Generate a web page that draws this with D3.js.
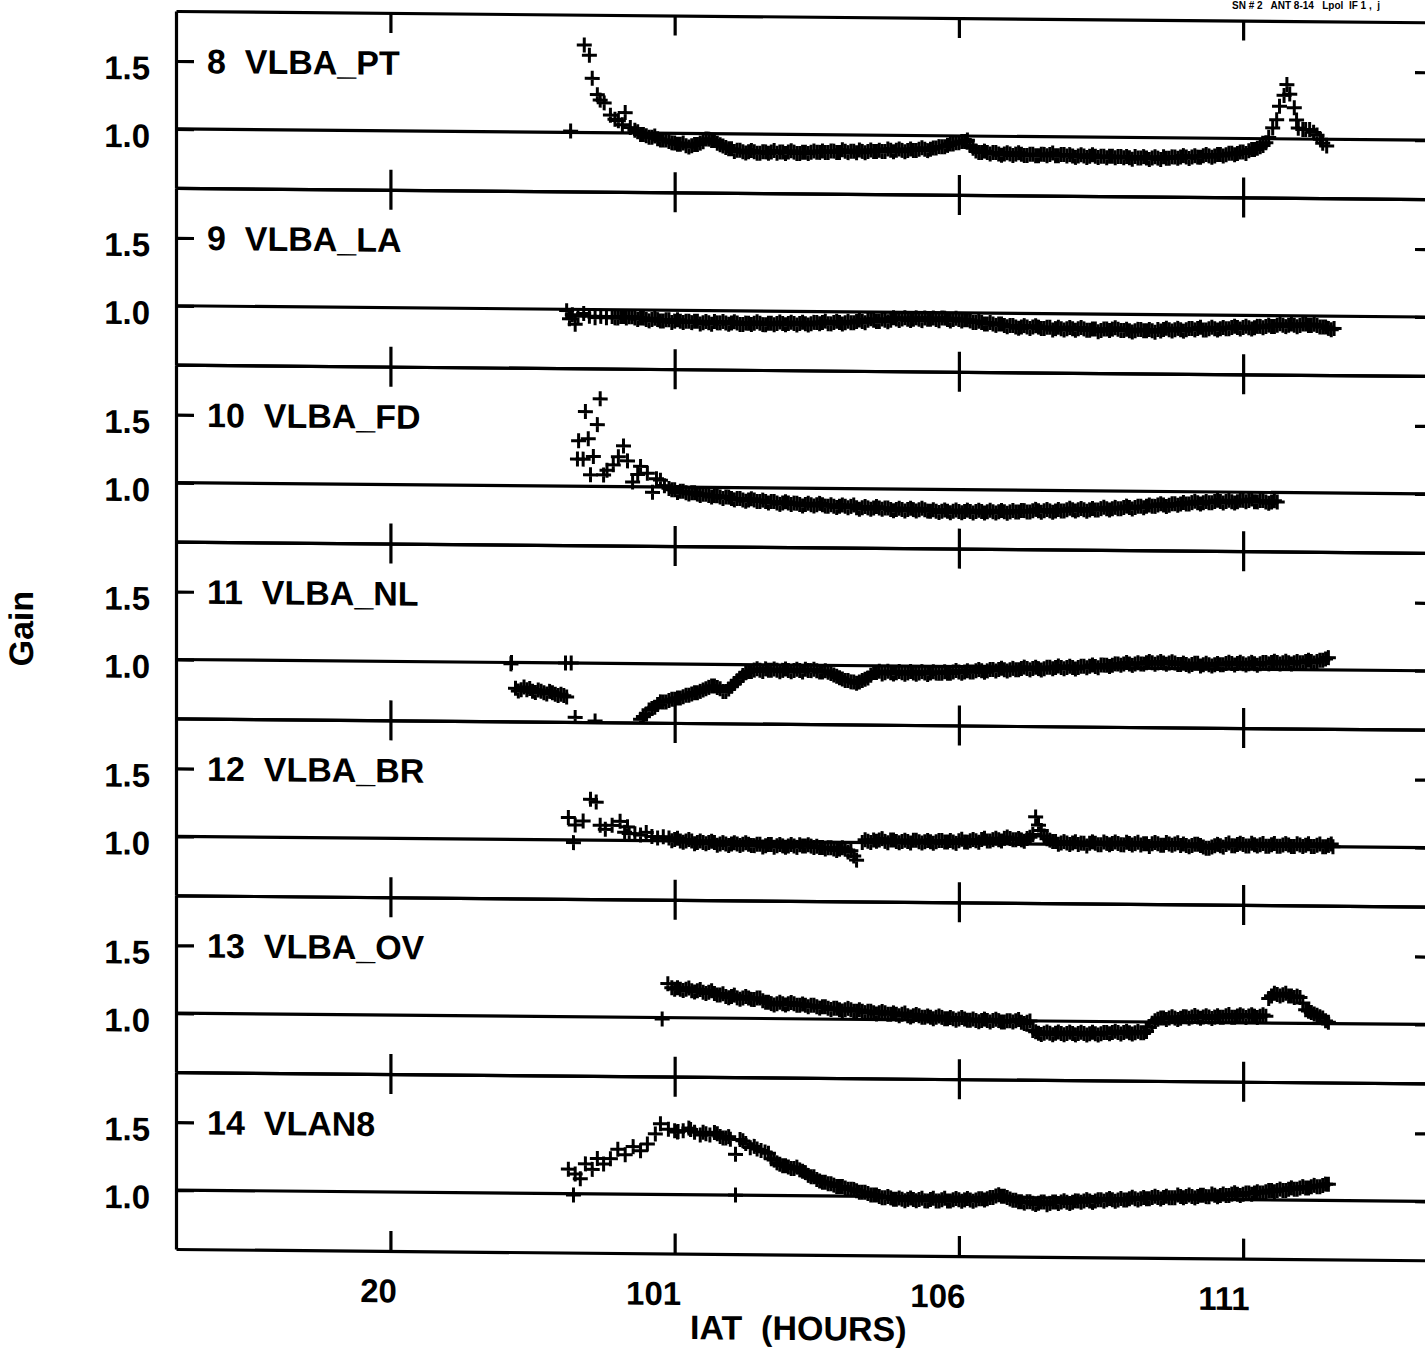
<!DOCTYPE html>
<html><head><meta charset="utf-8">
<script src="https://cdn.jsdelivr.net/npm/d3@7"></script>
<style>body{margin:0;background:#fff}svg text{white-space:pre}</style>
</head><body>
<svg id="c" width="1425" height="1348"></svg>
<script>
const antennas = ["8  VLBA_PT","9  VLBA_LA","10  VLBA_FD","11  VLBA_NL","12  VLBA_BR","13  VLBA_OV","14  VLAN8"];
const xTicks = [20,25,30,35];
const xTickLabels = ["20","101","106","111"];
const yTicks = [1.0,1.5];
const yTickLabels = ["1.0","1.5"];
const xTitle = "IAT  (HOURS)";
const yTitle = "Gain";
const topTitle = "SN # 2   ANT 8-14   Lpol  IF 1 ,  j";

const gainPT = [[23.17,1.01],[23.41,1.645],[23.5,1.57],[23.55,1.40],[23.64,1.28],[23.69,1.24],[23.76,1.22],[23.87,1.13],[23.95,1.10],[24.01,1.09],[24.08,1.06],[24.13,1.15],[24.22,1.04],
[24.3,1.02],[24.4,0.99],[24.5,0.98],[24.6,0.97],[24.7,0.96],[24.8,0.95],[24.9,0.94],
[25.0,0.93],[25.1,0.92],[25.2,0.91],[25.3,0.91],[25.4,0.92],[25.5,0.94],[25.6,0.96],[25.7,0.95],[25.8,0.92],[25.9,0.90],
[26.0,0.89],[26.1,0.88],[26.2,0.87],[26.3,0.87],[26.4,0.87],[26.5,0.86],[26.6,0.87],[26.7,0.87],[26.8,0.86],[26.9,0.87],
[27.0,0.87],[27.1,0.87],[27.2,0.86],[27.3,0.87],[27.4,0.87],[27.5,0.87],[27.6,0.88],[27.7,0.87],[27.8,0.88],[27.9,0.87],
[28.0,0.88],[28.1,0.88],[28.2,0.87],[28.3,0.88],[28.4,0.88],[28.5,0.88],[28.6,0.89],[28.7,0.88],[28.8,0.89],[28.9,0.89],
[29.0,0.89],[29.1,0.89],[29.2,0.89],[29.3,0.90],[29.4,0.90],[29.5,0.90],[29.6,0.91],[29.7,0.92],[29.8,0.93],[29.9,0.94],
[30.0,0.95],[30.1,0.96],[30.2,0.93],[30.3,0.89],[30.4,0.88],[30.5,0.88],[30.6,0.88],[30.7,0.87],[30.8,0.87],[30.9,0.87],
[31.0,0.87],[31.1,0.87],[31.2,0.86],[31.3,0.87],[31.4,0.86],[31.5,0.87],[31.6,0.87],[31.7,0.86],[31.8,0.87],[31.9,0.86],
[32.0,0.86],[32.1,0.86],[32.2,0.86],[32.3,0.86],[32.4,0.86],[32.5,0.86],[32.6,0.85],[32.7,0.86],[32.8,0.86],[32.9,0.85],
[33.0,0.85],[33.1,0.86],[33.2,0.85],[33.3,0.85],[33.4,0.85],[33.5,0.85],[33.6,0.86],[33.7,0.85],[33.8,0.86],[33.9,0.86],
[34.0,0.86],[34.1,0.86],[34.2,0.86],[34.3,0.87],[34.4,0.87],[34.5,0.87],[34.6,0.88],[34.7,0.88],[34.8,0.89],[34.9,0.89],
[35.0,0.90],[35.1,0.91],[35.2,0.92],[35.3,0.94],[35.4,0.97],[35.45,1.01],[35.52,1.08],[35.59,1.14],[35.64,1.24],[35.72,1.32],[35.77,1.40],[35.82,1.33],[35.9,1.23],[35.94,1.14],[35.97,1.08],
[36.05,1.07],[36.1,1.07],[36.17,1.07],[36.24,1.05],[36.3,1.03],[36.36,1.0],[36.4,0.97],[36.47,0.95]];
const gainPTb = [[24.35,1.01],[24.45,0.99],[24.55,0.97],[24.65,0.98],[24.75,0.95],[24.85,0.95],[24.95,0.93],
[25.05,0.92],[25.15,0.93],[25.25,0.90],[25.35,0.92],[25.45,0.93],[25.55,0.96],[25.65,0.95],[25.75,0.93],[25.85,0.91],[25.95,0.89],
[26.05,0.87],[26.15,0.88],[26.25,0.86],[26.35,0.88],[26.45,0.86],[26.55,0.87],[26.65,0.86],[26.75,0.88],[26.85,0.87],[26.95,0.86],
[27.05,0.88],[27.15,0.86],[27.25,0.87],[27.35,0.86],[27.45,0.88],[27.55,0.87],[27.65,0.87],[27.75,0.88],[27.85,0.87],[27.95,0.89],
[28.05,0.87],[28.15,0.88],[28.25,0.89],[28.35,0.87],[28.45,0.89],[28.55,0.88],[28.65,0.88],[28.75,0.90],[28.85,0.88],[28.95,0.90],
[29.05,0.88],[29.15,0.90],[29.25,0.89],[29.35,0.91],[29.45,0.89],[29.55,0.91],[29.65,0.92],[29.75,0.92],[29.85,0.94],[29.95,0.95],
[30.05,0.96],[30.15,0.97],[30.25,0.91],[30.35,0.88],[30.45,0.89],[30.55,0.87],[30.65,0.88],[30.75,0.86],[30.85,0.88],[30.95,0.86],
[31.05,0.88],[31.15,0.86],[31.25,0.87],[31.35,0.86],[31.45,0.87],[31.55,0.86],[31.65,0.88],[31.75,0.86],[31.85,0.87],[31.95,0.87],
[32.05,0.85],[32.15,0.87],[32.25,0.85],[32.35,0.87],[32.45,0.85],[32.55,0.86],[32.65,0.86],[32.75,0.85],[32.85,0.86],[32.95,0.86],
[33.05,0.84],[33.15,0.85],[33.25,0.86],[33.35,0.84],[33.45,0.86],[33.55,0.84],[33.65,0.85],[33.75,0.86],[33.85,0.85],[33.95,0.87],
[34.05,0.85],[34.15,0.87],[34.25,0.86],[34.35,0.88],[34.45,0.86],[34.55,0.88],[34.65,0.87],[34.75,0.89],[34.85,0.88],[34.95,0.90],
[35.05,0.89],[35.15,0.92],[35.25,0.93],[35.35,0.95]];

const gainLA = [[23.1,0.99],[23.15,0.93],[23.2,0.96],[23.25,0.89],[23.3,0.95],[23.4,0.97],[23.5,0.95],[23.6,0.94],[23.7,0.95],[23.8,0.94],[23.9,0.95],
[24.0,0.94],[24.1,0.95],[24.2,0.95],[24.3,0.94],[24.4,0.94],[24.5,0.93],[24.6,0.93],[24.7,0.93],[24.8,0.92],[24.9,0.93],
[25.0,0.92],[25.1,0.92],[25.2,0.92],[25.3,0.91],[25.4,0.92],[25.5,0.91],[25.6,0.91],[25.7,0.92],[25.8,0.91],[25.9,0.91],
[26.0,0.91],[26.1,0.91],[26.2,0.90],[26.3,0.91],[26.4,0.91],[26.5,0.91],[26.6,0.90],[26.7,0.91],[26.8,0.91],[26.9,0.91],
[27.0,0.91],[27.1,0.91],[27.2,0.91],[27.3,0.91],[27.4,0.91],[27.5,0.92],[27.6,0.92],[27.7,0.91],[27.8,0.92],[27.9,0.92],
[28.0,0.92],[28.1,0.92],[28.2,0.93],[28.3,0.93],[28.4,0.94],[28.5,0.94],[28.6,0.93],[28.7,0.94],[28.8,0.94],[28.9,0.95],
[29.0,0.95],[29.1,0.95],[29.2,0.95],[29.3,0.95],[29.4,0.96],[29.5,0.95],[29.6,0.95],[29.7,0.96],[29.8,0.95],[29.9,0.95],
[30.0,0.95],[30.1,0.95],[30.2,0.94],[30.3,0.93],[30.4,0.93],[30.5,0.92],[30.6,0.92],[30.7,0.92],[30.8,0.91],[30.9,0.91],
[31.0,0.90],[31.1,0.90],[31.2,0.90],[31.3,0.90],[31.4,0.90],[31.5,0.89],[31.6,0.90],[31.7,0.89],[31.8,0.89],[31.9,0.89],
[32.0,0.89],[32.1,0.89],[32.2,0.89],[32.3,0.88],[32.4,0.89],[32.5,0.88],[32.6,0.89],[32.7,0.89],[32.8,0.89],[32.9,0.88],
[33.0,0.88],[33.1,0.88],[33.2,0.89],[33.3,0.88],[33.4,0.88],[33.5,0.89],[33.6,0.89],[33.7,0.89],[33.8,0.89],[33.9,0.89],
[34.0,0.89],[34.1,0.90],[34.2,0.90],[34.3,0.89],[34.4,0.90],[34.5,0.90],[34.6,0.90],[34.7,0.90],[34.8,0.91],[34.9,0.91],
[35.0,0.91],[35.1,0.91],[35.2,0.91],[35.3,0.92],[35.4,0.92],[35.5,0.92],[35.6,0.93],[35.7,0.93],[35.8,0.93],[35.9,0.93],
[36.0,0.93],[36.1,0.94],[36.2,0.93],[36.3,0.93],[36.4,0.92],[36.5,0.91],[36.6,0.91]];
const gainLAb = [[23.95,0.94],[24.05,0.95],[24.15,0.94],[24.25,0.95],[24.35,0.93],[24.45,0.94],[24.55,0.92],[24.65,0.94],[24.75,0.92],[24.85,0.93],[24.95,0.91],
[25.05,0.93],[25.15,0.91],[25.25,0.92],[25.35,0.92],[25.45,0.90],[25.55,0.92],[25.65,0.90],[25.75,0.91],[25.85,0.92],[25.95,0.90],
[26.05,0.92],[26.15,0.90],[26.25,0.91],[26.35,0.90],[26.45,0.92],[26.55,0.90],[26.65,0.91],[26.75,0.90],[26.85,0.92],[26.95,0.90],
[27.05,0.92],[27.15,0.90],[27.25,0.92],[27.35,0.90],[27.45,0.92],[27.55,0.91],[27.65,0.93],[27.75,0.91],[27.85,0.93],[27.95,0.91],
[28.05,0.93],[28.15,0.92],[28.25,0.94],[28.35,0.92],[28.45,0.95],[28.55,0.93],[28.65,0.95],[28.75,0.93],[28.85,0.96],[28.95,0.94],
[29.05,0.96],[29.15,0.94],[29.25,0.96],[29.35,0.94],[29.45,0.95],[29.55,0.96],[29.65,0.94],[29.75,0.96],[29.85,0.94],[29.95,0.96],
[30.05,0.94],[30.15,0.95],[30.25,0.93],[30.35,0.94],[30.45,0.92],[30.55,0.93],[30.65,0.91],[30.75,0.92],[30.85,0.90],[30.95,0.91],
[31.05,0.89],[31.15,0.91],[31.25,0.89],[31.35,0.91],[31.45,0.89],[31.55,0.90],[31.65,0.88],[31.75,0.90],[31.85,0.88],[31.95,0.90],
[32.05,0.88],[32.15,0.90],[32.25,0.88],[32.35,0.89],[32.45,0.87],[32.55,0.89],[32.65,0.88],[32.75,0.90],[32.85,0.88],[32.95,0.89],
[33.05,0.87],[33.15,0.89],[33.25,0.88],[33.35,0.89],[33.45,0.87],[33.55,0.88],[33.65,0.90],[33.75,0.88],[33.85,0.90],[33.95,0.88],
[34.05,0.90],[34.15,0.89],[34.25,0.91],[34.35,0.89],[34.45,0.91],[34.55,0.89],[34.65,0.91],[34.75,0.90],[34.85,0.92],[34.95,0.90],
[35.05,0.92],[35.15,0.90],[35.25,0.92],[35.35,0.91],[35.45,0.93],[35.55,0.92],[35.65,0.94],[35.75,0.92],[35.85,0.94],[35.95,0.92],
[36.05,0.94],[36.15,0.93],[36.25,0.94],[36.35,0.92],[36.45,0.92],[36.55,0.90]];

const gainFD = [[23.29,1.20],[23.31,1.335],[23.39,1.20],[23.43,1.55],[23.48,1.35],[23.52,1.085],[23.57,1.22],[23.64,1.455],[23.69,1.645],[23.75,1.085],[23.81,1.12],[23.92,1.16],[24.01,1.22],[24.1,1.30],[24.17,1.19],[24.26,1.035],[24.35,1.09],[24.4,1.15],[24.52,1.10],[24.61,0.96],[24.68,1.06],[24.75,1.05],[24.82,1.01],[24.9,0.99],
[25.0,0.98],[25.1,0.97],[25.2,0.96],[25.3,0.96],[25.4,0.95],[25.5,0.95],[25.6,0.94],[25.7,0.94],[25.8,0.93],[25.9,0.93],
[26.0,0.92],[26.1,0.92],[26.2,0.91],[26.3,0.91],[26.4,0.91],[26.5,0.90],[26.6,0.90],[26.7,0.90],[26.8,0.89],[26.9,0.89],
[27.0,0.89],[27.1,0.89],[27.2,0.88],[27.3,0.88],[27.4,0.88],[27.5,0.88],[27.6,0.88],[27.7,0.87],[27.8,0.87],[27.9,0.87],
[28.0,0.87],[28.1,0.87],[28.2,0.86],[28.3,0.86],[28.4,0.86],[28.5,0.86],[28.6,0.86],[28.7,0.86],[28.8,0.85],[28.9,0.85],
[29.0,0.85],[29.1,0.85],[29.2,0.85],[29.3,0.85],[29.4,0.85],[29.5,0.84],[29.6,0.84],[29.7,0.84],[29.8,0.84],[29.9,0.84],
[30.0,0.84],[30.1,0.84],[30.2,0.84],[30.3,0.84],[30.4,0.84],[30.5,0.84],[30.6,0.84],[30.7,0.84],[30.8,0.84],[30.9,0.84],
[31.0,0.84],[31.1,0.85],[31.2,0.84],[31.3,0.85],[31.4,0.85],[31.5,0.85],[31.6,0.85],[31.7,0.85],[31.8,0.85],[31.9,0.86],
[32.0,0.86],[32.1,0.86],[32.2,0.86],[32.3,0.86],[32.4,0.86],[32.5,0.87],[32.6,0.87],[32.7,0.87],[32.8,0.87],[32.9,0.88],
[33.0,0.88],[33.1,0.88],[33.2,0.89],[33.3,0.89],[33.4,0.89],[33.5,0.90],[33.6,0.90],[33.7,0.90],[33.8,0.91],[33.9,0.91],
[34.0,0.91],[34.1,0.92],[34.2,0.92],[34.3,0.92],[34.4,0.92],[34.5,0.93],[34.6,0.93],[34.7,0.93],[34.8,0.93],[34.9,0.93],
[35.0,0.94],[35.1,0.94],[35.2,0.93],[35.3,0.94],[35.4,0.93],[35.5,0.93],[35.6,0.93]];
const gainFDb = [[24.95,0.98],[25.05,0.96],[25.15,0.97],[25.25,0.95],[25.35,0.96],[25.45,0.94],[25.55,0.95],[25.65,0.93],[25.75,0.94],[25.85,0.92],[25.95,0.93],
[26.05,0.91],[26.15,0.92],[26.25,0.90],[26.35,0.92],[26.45,0.90],[26.55,0.91],[26.65,0.89],[26.75,0.90],[26.85,0.88],[26.95,0.90],
[27.05,0.88],[27.15,0.89],[27.25,0.87],[27.35,0.89],[27.45,0.87],[27.55,0.89],[27.65,0.87],[27.75,0.88],[27.85,0.86],[27.95,0.88],
[28.05,0.86],[28.15,0.88],[28.25,0.85],[28.35,0.87],[28.45,0.85],[28.55,0.87],[28.65,0.85],[28.75,0.86],[28.85,0.84],[28.95,0.86],
[29.05,0.84],[29.15,0.86],[29.25,0.84],[29.35,0.86],[29.45,0.84],[29.55,0.85],[29.65,0.83],[29.75,0.85],[29.85,0.83],[29.95,0.85],
[30.05,0.83],[30.15,0.85],[30.25,0.83],[30.35,0.85],[30.45,0.83],[30.55,0.85],[30.65,0.83],[30.75,0.85],[30.85,0.83],[30.95,0.85],
[31.05,0.84],[31.15,0.85],[31.25,0.84],[31.35,0.86],[31.45,0.84],[31.55,0.86],[31.65,0.84],[31.75,0.86],[31.85,0.85],[31.95,0.87],
[32.05,0.85],[32.15,0.87],[32.25,0.85],[32.35,0.87],[32.45,0.86],[32.55,0.88],[32.65,0.86],[32.75,0.88],[32.85,0.87],[32.95,0.89],
[33.05,0.87],[33.15,0.89],[33.25,0.88],[33.35,0.90],[33.45,0.89],[33.55,0.91],[33.65,0.89],[33.75,0.91],[33.85,0.90],[33.95,0.92],
[34.05,0.91],[34.15,0.93],[34.25,0.91],[34.35,0.93],[34.45,0.92],[34.55,0.94],[34.65,0.92],[34.75,0.94],[34.85,0.92],[34.95,0.94],
[35.05,0.93],[35.15,0.95],[35.25,0.93],[35.35,0.94],[35.45,0.92],[35.55,0.94]];

const gainNL = [[22.12,0.99],[22.13,1.0],[22.2,0.81],[22.3,0.80],[22.35,0.82],[22.4,0.80],[22.5,0.79],[22.6,0.80],[22.7,0.78],[22.8,0.79],[22.9,0.77],[23.0,0.77],[23.1,0.75],[23.08,1.0],[23.18,1.0],[23.25,0.60],[23.6,0.575],
[24.4,0.59],[24.5,0.63],[24.6,0.67],[24.7,0.70],[24.8,0.72],[24.9,0.73],[25.0,0.74],[25.1,0.75],[25.2,0.77],[25.3,0.78],[25.4,0.79],[25.5,0.81],[25.6,0.83],[25.7,0.84],[25.8,0.82],[25.9,0.80],
[26.0,0.84],[26.1,0.88],[26.2,0.92],[26.3,0.95],[26.4,0.96],[26.5,0.96],[26.6,0.97],[26.7,0.96],[26.8,0.96],[26.9,0.96],
[27.0,0.96],[27.1,0.96],[27.2,0.96],[27.3,0.97],[27.4,0.96],[27.5,0.96],[27.6,0.95],[27.7,0.95],[27.8,0.93],[27.9,0.91],
[28.0,0.89],[28.1,0.88],[28.2,0.87],[28.3,0.89],[28.4,0.91],[28.5,0.95],[28.6,0.96],[28.7,0.95],[28.8,0.95],[28.9,0.95],
[29.0,0.95],[29.1,0.95],[29.2,0.95],[29.3,0.95],[29.4,0.95],[29.5,0.95],[29.6,0.95],[29.7,0.95],[29.8,0.95],[29.9,0.96],
[30.0,0.96],[30.1,0.96],[30.2,0.96],[30.3,0.97],[30.4,0.97],[30.5,0.97],[30.6,0.98],[30.7,0.98],[30.8,0.98],[30.9,0.98],
[31.0,0.98],[31.1,0.99],[31.2,0.99],[31.3,0.99],[31.4,0.99],[31.5,0.99],[31.6,1.00],[31.7,1.00],[31.8,1.00],[31.9,1.00],
[32.0,1.00],[32.1,1.00],[32.2,1.01],[32.3,1.01],[32.4,1.01],[32.5,1.02],[32.6,1.02],[32.7,1.02],[32.8,1.03],[32.9,1.03],
[33.0,1.03],[33.1,1.03],[33.2,1.03],[33.3,1.04],[33.4,1.04],[33.5,1.04],[33.6,1.04],[33.7,1.04],[33.8,1.04],[33.9,1.03],
[34.0,1.03],[34.1,1.03],[34.2,1.04],[34.3,1.03],[34.4,1.03],[34.5,1.03],[34.6,1.03],[34.7,1.04],[34.8,1.04],[34.9,1.04],
[35.0,1.04],[35.1,1.04],[35.2,1.04],[35.3,1.04],[35.4,1.05],[35.5,1.05],[35.6,1.05],[35.7,1.05],[35.8,1.05],[35.9,1.05],
[36.0,1.05],[36.1,1.06],[36.2,1.06],[36.3,1.06],[36.4,1.07],[36.5,1.09]];
const gainNLb = [[22.25,0.79],[22.45,0.81],[22.55,0.78],[22.65,0.79],[22.75,0.77],[22.85,0.78],[22.95,0.76],[23.05,0.76],
[24.45,0.61],[24.55,0.66],[24.65,0.68],[24.75,0.72],[24.85,0.72],[24.95,0.74],[25.05,0.75],[25.15,0.76],[25.25,0.77],[25.35,0.79],[25.45,0.80],[25.55,0.82],[25.65,0.84],[25.75,0.83],[25.85,0.80],[25.95,0.82],
[26.05,0.86],[26.15,0.90],[26.25,0.94],[26.35,0.95],[26.45,0.97],[26.55,0.95],[26.65,0.96],[26.75,0.97],[26.85,0.95],[26.95,0.97],
[27.05,0.95],[27.15,0.97],[27.25,0.95],[27.35,0.96],[27.45,0.97],[27.55,0.95],[27.65,0.96],[27.75,0.94],[27.85,0.92],[27.95,0.90],
[28.05,0.89],[28.15,0.88],[28.25,0.88],[28.35,0.90],[28.45,0.93],[28.55,0.95],[28.65,0.94],[28.75,0.96],[28.85,0.94],[28.95,0.96],
[29.05,0.94],[29.15,0.96],[29.25,0.94],[29.35,0.96],[29.45,0.94],[29.55,0.96],[29.65,0.95],[29.75,0.96],[29.85,0.95],[29.95,0.97],
[30.05,0.95],[30.15,0.97],[30.25,0.96],[30.35,0.98],[30.45,0.96],[30.55,0.98],[30.65,0.97],[30.75,0.99],[30.85,0.97],[30.95,0.99],
[31.05,0.98],[31.15,1.00],[31.25,0.98],[31.35,1.00],[31.45,0.98],[31.55,1.00],[31.65,0.99],[31.75,1.01],[31.85,0.99],[31.95,1.01],
[32.05,0.99],[32.15,1.01],[32.25,1.00],[32.35,1.02],[32.45,1.00],[32.55,1.02],[32.65,1.01],[32.75,1.03],[32.85,1.02],[32.95,1.04],
[33.05,1.02],[33.15,1.04],[33.25,1.03],[33.35,1.05],[33.45,1.03],[33.55,1.05],[33.65,1.03],[33.75,1.05],[33.85,1.03],[33.95,1.04],
[34.05,1.02],[34.15,1.04],[34.25,1.02],[34.35,1.04],[34.45,1.02],[34.55,1.04],[34.65,1.03],[34.75,1.05],[34.85,1.03],[34.95,1.05],
[35.05,1.03],[35.15,1.05],[35.25,1.03],[35.35,1.05],[35.45,1.04],[35.55,1.06],[35.65,1.04],[35.75,1.06],[35.85,1.04],[35.95,1.06],
[36.05,1.05],[36.15,1.07],[36.25,1.05],[36.35,1.07],[36.45,1.08]];

const gainBR = [[23.13,1.165],[23.22,0.98],[23.25,1.11],[23.39,1.14],[23.52,1.30],[23.62,1.28],[23.69,1.11],[23.78,1.08],[23.9,1.11],[24.04,1.14],[24.12,1.06],[24.17,1.10],
[24.2,1.05],[24.3,1.05],[24.4,1.04],[24.5,1.06],[24.6,1.03],[24.7,1.02],[24.8,1.03],[24.9,1.02],
[25.0,1.01],[25.1,1.00],[25.2,1.00],[25.3,1.00],[25.4,0.99],[25.5,0.99],[25.6,0.99],[25.7,0.99],[25.8,0.98],[25.9,0.98],
[26.0,0.98],[26.1,0.98],[26.2,0.98],[26.3,0.98],[26.4,0.97],[26.5,0.98],[26.6,0.97],[26.7,0.98],[26.8,0.97],[26.9,0.97],
[27.0,0.97],[27.1,0.97],[27.2,0.98],[27.3,0.97],[27.4,0.97],[27.5,0.97],[27.6,0.96],[27.7,0.96],[27.8,0.95],[27.9,0.95],
[28.0,0.95],[28.1,0.94],[28.15,0.90],[28.2,0.87],[28.3,1.00],[28.4,1.01],[28.5,1.02],[28.6,1.02],[28.7,1.01],[28.8,1.02],[28.9,1.01],
[29.0,1.01],[29.1,1.01],[29.2,1.02],[29.3,1.01],[29.4,1.01],[29.5,1.01],[29.6,1.01],[29.7,1.02],[29.8,1.01],[29.9,1.01],
[30.0,1.02],[30.1,1.01],[30.2,1.02],[30.3,1.02],[30.4,1.03],[30.5,1.02],[30.6,1.03],[30.7,1.03],[30.8,1.04],[30.9,1.04],
[31.0,1.03],[31.1,1.03],[31.2,1.04],[31.3,1.07],[31.35,1.20],[31.4,1.14],[31.45,1.10],[31.5,1.06],[31.6,1.03],[31.7,1.02],[31.8,1.01],[31.9,1.01],
[32.0,1.01],[32.1,1.00],[32.2,1.01],[32.3,1.01],[32.4,1.01],[32.5,1.00],[32.6,1.01],[32.7,1.01],[32.8,1.01],[32.9,1.00],
[33.0,1.01],[33.1,1.01],[33.2,1.00],[33.3,1.01],[33.4,1.01],[33.5,1.01],[33.6,1.00],[33.7,1.01],[33.8,1.01],[33.9,1.00],
[34.0,1.00],[34.1,1.00],[34.2,1.01],[34.3,0.99],[34.4,0.98],[34.5,1.00],[34.6,1.00],[34.7,1.01],[34.8,1.00],[34.9,1.01],
[35.0,1.01],[35.1,1.00],[35.2,1.01],[35.3,1.01],[35.4,1.00],[35.5,1.01],[35.6,1.00],[35.7,1.01],[35.8,1.01],[35.9,1.00],
[36.0,1.01],[36.1,1.01],[36.2,1.00],[36.3,1.01],[36.4,1.00],[36.5,1.01],[36.58,1.00]];
const gainBRb = [[24.95,1.00],[25.05,1.02],[25.15,0.99],[25.25,1.01],[25.35,0.98],[25.45,1.00],[25.55,0.98],[25.65,1.00],[25.75,0.97],[25.85,0.99],[25.95,0.97],
[26.05,0.99],[26.15,0.97],[26.25,0.99],[26.35,0.97],[26.45,0.98],[26.55,0.96],[26.65,0.98],[26.75,0.96],[26.85,0.98],[26.95,0.96],
[27.05,0.98],[27.15,0.96],[27.25,0.97],[27.35,0.98],[27.45,0.96],[27.55,0.96],[27.65,0.95],[27.75,0.96],[27.85,0.94],[27.95,0.96],
[28.05,0.93],[28.35,1.02],[28.45,1.00],[28.55,1.01],[28.65,1.03],[28.75,1.00],[28.85,1.02],[28.95,1.00],
[29.05,1.02],[29.15,1.00],[29.25,1.02],[29.35,1.00],[29.45,1.02],[29.55,1.00],[29.65,1.02],[29.75,1.01],[29.85,1.02],[29.95,1.00],
[30.05,1.03],[30.15,1.01],[30.25,1.03],[30.35,1.01],[30.45,1.04],[30.55,1.02],[30.65,1.04],[30.75,1.02],[30.85,1.05],[30.95,1.03],
[31.05,1.04],[31.15,1.02],[31.25,1.05],[31.55,1.04],[31.65,1.02],[31.75,1.00],[31.85,1.02],[31.95,1.00],
[32.05,1.02],[32.15,1.01],[32.25,0.99],[32.35,1.02],[32.45,1.00],[32.55,1.02],[32.65,1.00],[32.75,1.02],[32.85,1.00],[32.95,1.02],
[33.05,1.00],[33.15,1.02],[33.25,1.01],[33.35,0.99],[33.45,1.02],[33.55,1.00],[33.65,1.02],[33.75,1.00],[33.85,1.02],[33.95,1.01],
[34.05,0.99],[34.15,1.01],[34.25,1.00],[34.35,0.98],[34.45,0.99],[34.55,1.01],[34.65,0.99],[34.75,1.02],[34.85,1.00],[34.95,1.02],
[35.05,1.00],[35.15,1.02],[35.25,1.00],[35.35,1.02],[35.45,1.00],[35.55,1.02],[35.65,1.00],[35.75,1.02],[35.85,1.00],[35.95,1.02],
[36.05,1.00],[36.15,1.02],[36.25,1.00],[36.35,1.02],[36.45,1.00],[36.55,1.02]];

const gainOV = [[24.78,0.99],[24.88,1.25],[24.95,1.22],
[25.0,1.21],[25.1,1.21],[25.2,1.21],[25.3,1.20],[25.4,1.20],[25.5,1.19],[25.6,1.19],[25.7,1.18],[25.8,1.17],[25.9,1.16],
[26.0,1.16],[26.1,1.15],[26.2,1.15],[26.3,1.15],[26.4,1.14],[26.5,1.15],[26.6,1.12],[26.7,1.11],[26.8,1.11],[26.9,1.11],
[27.0,1.11],[27.1,1.11],[27.2,1.10],[27.3,1.10],[27.4,1.10],[27.5,1.09],[27.6,1.09],[27.7,1.08],[27.8,1.08],[27.9,1.07],
[28.0,1.07],[28.1,1.07],[28.2,1.06],[28.3,1.06],[28.4,1.06],[28.5,1.05],[28.6,1.05],[28.7,1.05],[28.8,1.04],[28.9,1.04],
[29.0,1.04],[29.1,1.03],[29.2,1.03],[29.3,1.03],[29.4,1.02],[29.5,1.02],[29.6,1.02],[29.7,1.02],[29.8,1.01],[29.9,1.01],
[30.0,1.01],[30.1,1.01],[30.2,1.00],[30.3,1.00],[30.4,1.00],[30.5,1.00],[30.6,1.00],[30.7,1.00],[30.8,0.99],[30.9,1.00],
[31.0,1.00],[31.1,0.99],[31.2,0.99],[31.3,0.93],[31.4,0.91],[31.5,0.91],[31.6,0.91],[31.7,0.91],[31.8,0.91],[31.9,0.91],
[32.0,0.91],[32.1,0.91],[32.2,0.91],[32.3,0.91],[32.4,0.91],[32.5,0.91],[32.6,0.92],[32.7,0.92],[32.8,0.92],[32.9,0.92],
[33.0,0.92],[33.1,0.92],[33.2,0.92],[33.3,0.93],[33.4,0.99],[33.5,1.02],[33.6,1.03],[33.7,1.03],[33.8,1.03],[33.9,1.03],
[34.0,1.04],[34.1,1.04],[34.2,1.04],[34.3,1.04],[34.4,1.04],[34.5,1.04],[34.6,1.04],[34.7,1.05],[34.8,1.04],[34.9,1.05],
[35.0,1.05],[35.1,1.05],[35.2,1.05],[35.3,1.05],[35.4,1.05],[35.5,1.20],[35.6,1.21],[35.7,1.21],[35.8,1.20],[35.9,1.19],
[36.0,1.19],[36.1,1.10],[36.2,1.08],[36.3,1.06],[36.4,1.04],[36.5,1.01]];
const gainOVb = [[25.05,1.22],[25.15,1.20],[25.25,1.22],[25.35,1.19],[25.45,1.21],[25.55,1.18],[25.65,1.20],[25.75,1.17],[25.85,1.18],[25.95,1.15],
[26.05,1.17],[26.15,1.14],[26.25,1.16],[26.35,1.14],[26.45,1.15],[26.55,1.13],[26.65,1.12],[26.75,1.10],[26.85,1.12],[26.95,1.10],
[27.05,1.12],[27.15,1.10],[27.25,1.11],[27.35,1.09],[27.45,1.10],[27.55,1.08],[27.65,1.09],[27.75,1.07],[27.85,1.08],[27.95,1.06],
[28.05,1.08],[28.15,1.06],[28.25,1.07],[28.35,1.05],[28.45,1.06],[28.55,1.04],[28.65,1.06],[28.75,1.04],[28.85,1.05],[28.95,1.03],
[29.05,1.05],[29.15,1.02],[29.25,1.04],[29.35,1.02],[29.45,1.03],[29.55,1.01],[29.65,1.03],[29.75,1.01],[29.85,1.02],[29.95,1.00],
[30.05,1.02],[30.15,1.00],[30.25,1.01],[30.35,0.99],[30.45,1.01],[30.55,0.99],[30.65,1.01],[30.75,0.99],[30.85,1.00],[30.95,0.99],
[31.05,1.01],[31.15,0.98],[31.25,1.00],[31.35,0.92],[31.45,0.90],[31.55,0.92],[31.65,0.90],[31.75,0.92],[31.85,0.90],[31.95,0.92],
[32.05,0.90],[32.15,0.92],[32.25,0.90],[32.35,0.92],[32.45,0.90],[32.55,0.92],[32.65,0.91],[32.75,0.93],[32.85,0.91],[32.95,0.93],
[33.05,0.91],[33.15,0.93],[33.25,0.92],[33.35,0.96],[33.45,1.01],[33.55,1.03],[33.65,1.02],[33.75,1.04],[33.85,1.02],[33.95,1.04],
[34.05,1.03],[34.15,1.05],[34.25,1.03],[34.35,1.05],[34.45,1.03],[34.55,1.05],[34.65,1.04],[34.75,1.06],[34.85,1.04],[34.95,1.06],
[35.05,1.04],[35.15,1.06],[35.25,1.04],[35.35,1.06],[35.45,1.18],[35.55,1.22],[35.65,1.20],[35.75,1.22],[35.85,1.20],[35.95,1.20],
[36.05,1.15],[36.15,1.09],[36.25,1.07],[36.35,1.05],[36.45,1.02]];

const gainN8 = [[23.13,1.18],[23.22,0.99],[23.25,1.145],[23.34,1.11],[23.43,1.22],[23.55,1.18],[23.64,1.26],[23.75,1.22],[23.87,1.26],[24.0,1.33],[24.13,1.29],[24.27,1.35],[24.4,1.32],[24.52,1.37],[24.66,1.445],[24.75,1.52],[24.89,1.48],
[25.0,1.47],[25.06,1.465],[25.15,1.47],[25.28,1.48],[25.35,1.46],[25.45,1.44],[25.55,1.45],[25.7,1.46],[25.8,1.43],[25.9,1.42],[25.98,1.41],[26.07,1.30],[26.07,1.00],
[26.15,1.41],[26.25,1.38],[26.33,1.35],[26.45,1.34],[26.59,1.32],[26.7,1.27],[26.8,1.24],[26.9,1.22],
[27.0,1.21],[27.1,1.20],[27.2,1.19],[27.3,1.17],[27.4,1.14],[27.5,1.12],[27.6,1.10],[27.7,1.09],[27.8,1.08],[27.9,1.07],
[28.0,1.06],[28.1,1.05],[28.2,1.04],[28.3,1.03],[28.4,1.02],[28.5,1.01],[28.6,1.00],[28.7,0.99],[28.8,0.99],[28.9,0.98],
[29.0,0.98],[29.1,0.98],[29.2,0.98],[29.3,0.98],[29.4,0.97],[29.5,0.98],[29.6,0.97],[29.7,0.98],[29.8,0.97],[29.9,0.98],
[30.0,0.98],[30.1,0.98],[30.2,0.98],[30.3,0.98],[30.4,0.99],[30.5,0.99],[30.6,1.00],[30.7,1.02],[30.8,1.01],[30.9,0.99],
[31.0,0.98],[31.1,0.97],[31.2,0.97],[31.3,0.96],[31.4,0.96],[31.5,0.97],[31.6,0.96],[31.7,0.97],[31.8,0.97],[31.9,0.97],
[32.0,0.97],[32.1,0.98],[32.2,0.98],[32.3,0.98],[32.4,0.98],[32.5,0.99],[32.6,0.99],[32.7,0.99],[32.8,0.99],[32.9,0.99],
[33.0,1.00],[33.1,1.00],[33.2,1.00],[33.3,1.00],[33.4,1.01],[33.5,1.01],[33.6,1.01],[33.7,1.01],[33.8,1.01],[33.9,1.02],
[34.0,1.02],[34.1,1.02],[34.2,1.02],[34.3,1.03],[34.4,1.02],[34.5,1.03],[34.6,1.03],[34.7,1.03],[34.8,1.04],[34.9,1.04],
[35.0,1.04],[35.1,1.05],[35.2,1.05],[35.3,1.05],[35.4,1.06],[35.5,1.07],[35.6,1.07],[35.7,1.07],[35.8,1.08],[35.9,1.08],
[36.0,1.09],[36.1,1.09],[36.2,1.10],[36.3,1.10],[36.4,1.11],[36.5,1.12]];
const gainN8b = [[25.05,1.46],[25.25,1.49],[25.5,1.46],[25.62,1.44],[25.75,1.45],[25.85,1.42],[25.95,1.43],[26.2,1.40],[26.4,1.36],[26.52,1.33],[26.65,1.31],[26.75,1.26],[26.85,1.23],
[26.95,1.22],[27.05,1.20],[27.15,1.21],[27.25,1.18],[27.35,1.15],[27.45,1.14],[27.55,1.11],[27.65,1.10],[27.75,1.09],[27.85,1.07],[27.95,1.07],
[28.05,1.05],[28.15,1.05],[28.25,1.03],[28.35,1.03],[28.45,1.01],[28.55,1.01],[28.65,0.99],[28.75,1.00],[28.85,0.98],[28.95,0.99],
[29.05,0.97],[29.15,0.99],[29.25,0.97],[29.35,0.99],[29.45,0.97],[29.55,0.99],[29.65,0.97],[29.75,0.99],[29.85,0.97],[29.95,0.99],
[30.05,0.97],[30.15,0.99],[30.25,0.97],[30.35,0.99],[30.45,0.98],[30.55,1.00],[30.65,1.01],[30.75,1.01],[30.85,1.00],[30.95,0.98],
[31.05,0.97],[31.15,0.96],[31.25,0.97],[31.35,0.95],[31.45,0.97],[31.55,0.95],[31.65,0.97],[31.75,0.96],[31.85,0.98],[31.95,0.96],
[32.05,0.98],[32.15,0.97],[32.25,0.99],[32.35,0.97],[32.45,0.99],[32.55,0.98],[32.65,1.00],[32.75,0.98],[32.85,1.00],[32.95,0.99],
[33.05,1.01],[33.15,0.99],[33.25,1.01],[33.35,1.00],[33.45,1.02],[33.55,1.00],[33.65,1.02],[33.75,1.01],[33.85,1.03],[33.95,1.01],
[34.05,1.03],[34.15,1.01],[34.25,1.03],[34.35,1.02],[34.45,1.04],[34.55,1.02],[34.65,1.04],[34.75,1.03],[34.85,1.05],[34.95,1.03],
[35.05,1.05],[35.15,1.04],[35.25,1.06],[35.35,1.05],[35.45,1.07],[35.55,1.06],[35.65,1.08],[35.75,1.07],[35.85,1.09],[35.95,1.08],
[36.05,1.10],[36.15,1.09],[36.25,1.11],[36.35,1.10],[36.45,1.12]];

const series = [gainPT.concat(gainPTb), gainLA.concat(gainLAb), gainFD.concat(gainFDb), gainNL.concat(gainNLb),
                gainBR.concat(gainBRb), gainOV.concat(gainOVb), gainN8.concat(gainN8b)];

// ---------- layout ----------
const W = 1425, H = 1348;
const left = 176, right = 1433;
const top0 = 11, panelH = 176.86;
const skew = 0.009;
const F = '"Liberation Sans", Arial, Helvetica, sans-serif';
const gainDomain = [0.566, 1.868];
const cross = "M-7.5,0H7.5M0,-7.5V7.5";

const svg = d3.select("#c");
svg.append("rect").attr("width", W).attr("height", H).attr("fill", "#fff");
const root = svg.append("g").attr("transform", `matrix(1,${skew},0,1,0,${(-skew*left).toFixed(3)})`);
const x = d3.scaleLinear().domain([16.228, 38.34]).range([left, right]);

function styleAxis(g) {
  g.attr("font-family", F).attr("font-size", 33).attr("font-weight", "bold");
  g.selectAll("path.domain, .tick line").attr("stroke", "#000").attr("stroke-width", 3.2);
  g.selectAll("text").attr("fill", "#000");
}

series.forEach((data, i) => {
  const top = top0 + i * panelH, bot = top + panelH;
  const y = d3.scaleLinear().domain(gainDomain).range([bot, top]);
  const p = root.append("g");
  const cid = "clip" + i;
  root.append("clipPath").attr("id", cid).append("rect")
    .attr("x", left).attr("y", top).attr("width", right - left).attr("height", panelH);

  p.append("g").attr("transform", `translate(0,${top})`)
    .call(d3.axisBottom(x).tickValues(xTicks).tickSizeInner(20).tickSizeOuter(0).tickFormat(""))
    .call(styleAxis);
  p.append("g").attr("transform", `translate(0,${bot})`)
    .call(d3.axisTop(x).tickValues(xTicks).tickSizeInner(20).tickSizeOuter(0).tickFormat(""))
    .call(styleAxis);
  const la = p.append("g").attr("transform", `translate(${left},0)`)
    .call(d3.axisLeft(y).tickValues(yTicks).tickSizeInner(-18).tickSizeOuter(0).tickPadding(26)
      .tickFormat((d, j) => yTickLabels[j]))
    .call(styleAxis);
  la.selectAll("text").attr("dy", "0.55em");
  p.append("g").attr("transform", `translate(${right},0)`)
    .call(d3.axisRight(y).tickValues(yTicks).tickSizeInner(-18).tickSizeOuter(0).tickFormat(""))
    .call(styleAxis);

  p.append("line").attr("x1", left).attr("x2", right).attr("y1", y(1)).attr("y2", y(1))
    .attr("stroke", "#000").attr("stroke-width", 3.2);

  p.append("g").attr("clip-path", `url(#${cid})`)
    .selectAll("path").data(data).join("path")
    .attr("d", cross)
    .attr("transform", d => `translate(${x(d[0]).toFixed(2)},${y(d[1]).toFixed(2)})`)
    .attr("stroke", "#000").attr("stroke-width", 3).attr("fill", "none");

  p.append("text").attr("x", 207).attr("y", y(1.5) + 12)
    .attr("font-family", F).attr("font-size", 34).attr("font-weight", "bold")
    .text(antennas[i]);
});

const bottomY = top0 + series.length * panelH;
const xl = root.append("g").attr("transform", `translate(0,${bottomY})`)
  .call(d3.axisBottom(x).tickValues(xTicks).tickSize(0).tickPadding(28)
    .tickFormat((d, j) => xTickLabels[j]))
  .call(styleAxis);
xl.select(".domain").remove();
xl.selectAll("text").attr("text-anchor", "end").attr("x", 6);

root.append("text").attr("x", 690).attr("y", 1334.5)
  .attr("font-family", F).attr("font-size", 34).attr("font-weight", "bold").text(xTitle);
root.append("text").attr("transform", "translate(33,630) rotate(-90)")
  .attr("text-anchor", "middle")
  .attr("font-family", F).attr("font-size", 34).attr("font-weight", "bold").text(yTitle);
svg.append("text").attr("x", 1380).attr("y", 9).attr("text-anchor", "end")
  .attr("font-family", F).attr("font-size", 10).attr("font-weight", "bold").text(topTitle);
</script>
</body></html>
